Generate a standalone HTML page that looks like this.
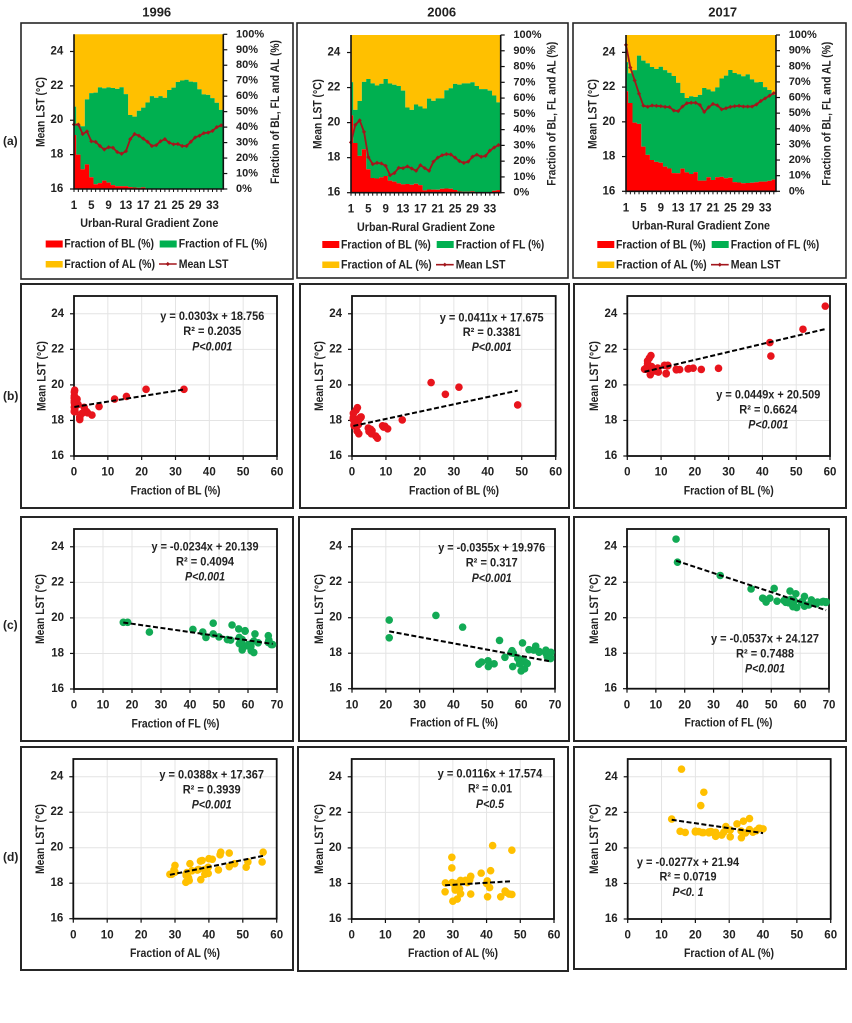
<!DOCTYPE html>
<html lang="en">
<head>
<meta charset="utf-8">
<title>Mean LST against land fractions, 1996, 2006, 2017</title>
<style>
html,body{margin:0;padding:0;background:#fff;}
svg{display:block;filter:blur(0.3px);}
text{font-family:"Liberation Sans",sans-serif;font-weight:700;font-size:12px;fill:#222;dominant-baseline:central;}
.mid{text-anchor:middle;}
.eq{font-size:12px;}
.pv{font-style:italic;}
.panel{fill:#fff;stroke:#262626;}
</style>
</head>
<body>
<svg id="figure" xmlns="http://www.w3.org/2000/svg" width="852" height="1023" viewBox="0 0 852 1023">
<rect x="0" y="0" width="852" height="1023" fill="#fff"/>

<text class="mid" x="156.7" y="12" style="font-size:13px">1996</text>
<text class="mid" x="441.7" y="12" style="font-size:13px">2006</text>
<text class="mid" x="722.7" y="12" style="font-size:13px">2017</text>
<text x="3" y="141" style="font-size:12px">(a)</text>
<text x="3" y="396" style="font-size:12px">(b)</text>
<text x="3" y="625" style="font-size:12px">(c)</text>
<text x="3" y="857" style="font-size:12px">(d)</text>

<rect class="panel" stroke-width="1.6" x="21" y="23" width="272" height="256"/>
<rect class="panel" stroke-width="1.6" x="297" y="23" width="271" height="255"/>
<rect class="panel" stroke-width="1.6" x="573" y="23" width="273" height="255"/>
<rect class="panel" stroke-width="2" x="21" y="284" width="272" height="224"/>
<rect class="panel" stroke-width="2" x="300" y="284" width="269" height="224"/>
<rect class="panel" stroke-width="2" x="574" y="284" width="272" height="224"/>
<rect class="panel" stroke-width="2" x="21" y="517" width="272" height="224"/>
<rect class="panel" stroke-width="2" x="299" y="517" width="270" height="224"/>
<rect class="panel" stroke-width="2" x="574" y="517" width="272" height="224"/>
<rect class="panel" stroke-width="2" x="21" y="747" width="272" height="223"/>
<rect class="panel" stroke-width="2" x="298" y="747" width="270" height="224"/>
<rect class="panel" stroke-width="2" x="574" y="747" width="272" height="222"/>

<g id="marks"></g>

<!-- Row a: titles and legends -->
<g>
<text class="mid" transform="rotate(-90 40.7 112)" x="40.7" y="112" textLength="70" lengthAdjust="spacingAndGlyphs">Mean LST (°C)</text>
<text class="mid" transform="rotate(-90 275 112)" x="275" y="112" textLength="144" lengthAdjust="spacingAndGlyphs">Fraction of BL, FL and AL (%)</text>
<text class="mid" x="149.3" y="223" textLength="138" lengthAdjust="spacingAndGlyphs">Urban-Rural Gradient Zone</text>
<rect x="45.7" y="240.5" width="17" height="7" fill="#ff0000"/>
<text x="64.3" y="243.7" textLength="89.7" lengthAdjust="spacingAndGlyphs">Fraction of BL (%)</text>
<rect x="159.7" y="240.5" width="17" height="7" fill="#00b050"/>
<text x="178.7" y="243.7" textLength="88.6" lengthAdjust="spacingAndGlyphs">Fraction of FL (%)</text>
<rect x="45.7" y="261" width="17" height="6.5" fill="#ffc000"/>
<text x="64.3" y="264" textLength="90.7" lengthAdjust="spacingAndGlyphs">Fraction of AL (%)</text>
<path d="M159 264H176.7" stroke="#a3161c" stroke-width="1.6"/>
<path d="M167.8 261.9L169.9 264L167.8 266.1L165.7 264Z" fill="#a3161c"/>
<text x="178.7" y="264" textLength="49.7" lengthAdjust="spacingAndGlyphs">Mean LST</text>
</g>
<g>
<text class="mid" transform="rotate(-90 317.3 114)" x="317.3" y="114" textLength="70" lengthAdjust="spacingAndGlyphs">Mean LST (°C)</text>
<text class="mid" transform="rotate(-90 551.7 113.7)" x="551.7" y="113.7" textLength="144" lengthAdjust="spacingAndGlyphs">Fraction of BL, FL and AL (%)</text>
<text class="mid" x="426" y="227" textLength="138" lengthAdjust="spacingAndGlyphs">Urban-Rural Gradient Zone</text>
<rect x="322.3" y="241" width="17" height="7" fill="#ff0000"/>
<text x="341" y="244.3" textLength="89.7" lengthAdjust="spacingAndGlyphs">Fraction of BL (%)</text>
<rect x="436.7" y="241" width="17" height="7" fill="#00b050"/>
<text x="455.7" y="244.3" textLength="88.6" lengthAdjust="spacingAndGlyphs">Fraction of FL (%)</text>
<rect x="322.3" y="261.5" width="17" height="6.5" fill="#ffc000"/>
<text x="341" y="264.7" textLength="90.7" lengthAdjust="spacingAndGlyphs">Fraction of AL (%)</text>
<path d="M436 264.7H453.7" stroke="#a3161c" stroke-width="1.6"/>
<path d="M444.8 262.6L446.9 264.7L444.8 266.8L442.7 264.7Z" fill="#a3161c"/>
<text x="455.7" y="264.7" textLength="49.7" lengthAdjust="spacingAndGlyphs">Mean LST</text>
</g>
<g>
<text class="mid" transform="rotate(-90 592.3 114)" x="592.3" y="114" textLength="70" lengthAdjust="spacingAndGlyphs">Mean LST (°C)</text>
<text class="mid" transform="rotate(-90 826.7 113.7)" x="826.7" y="113.7" textLength="144" lengthAdjust="spacingAndGlyphs">Fraction of BL, FL and AL (%)</text>
<text class="mid" x="701" y="225.7" textLength="138" lengthAdjust="spacingAndGlyphs">Urban-Rural Gradient Zone</text>
<rect x="597.3" y="241" width="17" height="7" fill="#ff0000"/>
<text x="616" y="244.3" textLength="89.7" lengthAdjust="spacingAndGlyphs">Fraction of BL (%)</text>
<rect x="711.7" y="241" width="17" height="7" fill="#00b050"/>
<text x="730.7" y="244.3" textLength="88.6" lengthAdjust="spacingAndGlyphs">Fraction of FL (%)</text>
<rect x="597.3" y="261.5" width="17" height="6.5" fill="#ffc000"/>
<text x="616" y="264.7" textLength="90.7" lengthAdjust="spacingAndGlyphs">Fraction of AL (%)</text>
<path d="M711 264.7H728.7" stroke="#a3161c" stroke-width="1.6"/>
<path d="M719.8 262.6L721.9 264.7L719.8 266.8L717.7 264.7Z" fill="#a3161c"/>
<text x="730.7" y="264.7" textLength="49.7" lengthAdjust="spacingAndGlyphs">Mean LST</text>
</g>

<!-- Row b -->
<g>
<text class="mid" transform="rotate(-90 41.7 376)" x="41.7" y="376" textLength="70" lengthAdjust="spacingAndGlyphs">Mean LST (°C)</text>
<text class="mid" x="175.5" y="490.7" textLength="90" lengthAdjust="spacingAndGlyphs">Fraction of BL (%)</text>
<text class="mid eq" x="212.3" y="316" textLength="104" lengthAdjust="spacingAndGlyphs">y = 0.0303x + 18.756</text>
<text class="mid eq" x="212.3" y="331" textLength="58" lengthAdjust="spacingAndGlyphs">R² = 0.2035</text>
<text class="mid eq pv" x="212.3" y="346.3" textLength="40" lengthAdjust="spacingAndGlyphs">P&lt;0.001</text>
</g>
<g>
<text class="mid" transform="rotate(-90 319 376)" x="319" y="376" textLength="70" lengthAdjust="spacingAndGlyphs">Mean LST (°C)</text>
<text class="mid" x="454" y="490.7" textLength="90" lengthAdjust="spacingAndGlyphs">Fraction of BL (%)</text>
<text class="mid eq" x="491.7" y="317.3" textLength="104" lengthAdjust="spacingAndGlyphs">y = 0.0411x + 17.675</text>
<text class="mid eq" x="491.7" y="332" textLength="58" lengthAdjust="spacingAndGlyphs">R² = 0.3381</text>
<text class="mid eq pv" x="491.7" y="347" textLength="40" lengthAdjust="spacingAndGlyphs">P&lt;0.001</text>
</g>
<g>
<text class="mid" transform="rotate(-90 594 376)" x="594" y="376" textLength="70" lengthAdjust="spacingAndGlyphs">Mean LST (°C)</text>
<text class="mid" x="728.7" y="490.7" textLength="90" lengthAdjust="spacingAndGlyphs">Fraction of BL (%)</text>
<text class="mid eq" x="768.3" y="394.3" textLength="104" lengthAdjust="spacingAndGlyphs">y = 0.0449x + 20.509</text>
<text class="mid eq" x="768.3" y="409.7" textLength="58" lengthAdjust="spacingAndGlyphs">R² = 0.6624</text>
<text class="mid eq pv" x="768.3" y="424.7" textLength="40" lengthAdjust="spacingAndGlyphs">P&lt;0.001</text>
</g>

<!-- Row c -->
<g>
<text class="mid" transform="rotate(-90 40 609)" x="40" y="609" textLength="70" lengthAdjust="spacingAndGlyphs">Mean LST (°C)</text>
<text class="mid" x="175.5" y="723.5" textLength="88" lengthAdjust="spacingAndGlyphs">Fraction of FL (%)</text>
<text class="mid eq" x="205" y="546.7" textLength="107" lengthAdjust="spacingAndGlyphs">y = -0.0234x + 20.139</text>
<text class="mid eq" x="205" y="561.7" textLength="58" lengthAdjust="spacingAndGlyphs">R² = 0.4094</text>
<text class="mid eq pv" x="205" y="576.7" textLength="40" lengthAdjust="spacingAndGlyphs">P&lt;0.001</text>
</g>
<g>
<text class="mid" transform="rotate(-90 319 609)" x="319" y="609" textLength="70" lengthAdjust="spacingAndGlyphs">Mean LST (°C)</text>
<text class="mid" x="454" y="722.7" textLength="88" lengthAdjust="spacingAndGlyphs">Fraction of FL (%)</text>
<text class="mid eq" x="491.7" y="547.7" textLength="107" lengthAdjust="spacingAndGlyphs">y = -0.0355x + 19.976</text>
<text class="mid eq" x="491.7" y="562.7" textLength="52" lengthAdjust="spacingAndGlyphs">R² = 0.317</text>
<text class="mid eq pv" x="491.7" y="578" textLength="40" lengthAdjust="spacingAndGlyphs">P&lt;0.001</text>
</g>
<g>
<text class="mid" transform="rotate(-90 594 609)" x="594" y="609" textLength="70" lengthAdjust="spacingAndGlyphs">Mean LST (°C)</text>
<text class="mid" x="728.5" y="722.7" textLength="88" lengthAdjust="spacingAndGlyphs">Fraction of FL (%)</text>
<text class="mid eq" x="765" y="638.7" textLength="108" lengthAdjust="spacingAndGlyphs">y = -0.0537x + 24.127</text>
<text class="mid eq" x="765" y="653.7" textLength="58" lengthAdjust="spacingAndGlyphs">R² = 0.7488</text>
<text class="mid eq pv" x="765" y="668.7" textLength="40" lengthAdjust="spacingAndGlyphs">P&lt;0.001</text>
</g>

<!-- Row d -->
<g>
<text class="mid" transform="rotate(-90 40 839)" x="40" y="839" textLength="70" lengthAdjust="spacingAndGlyphs">Mean LST (°C)</text>
<text class="mid" x="175" y="953" textLength="90" lengthAdjust="spacingAndGlyphs">Fraction of AL (%)</text>
<text class="mid eq" x="211.7" y="774.3" textLength="104.7" lengthAdjust="spacingAndGlyphs">y = 0.0388x + 17.367</text>
<text class="mid eq" x="211.7" y="789.3" textLength="58" lengthAdjust="spacingAndGlyphs">R² = 0.3939</text>
<text class="mid eq pv" x="211.7" y="804.7" textLength="40" lengthAdjust="spacingAndGlyphs">P&lt;0.001</text>
</g>
<g>
<text class="mid" transform="rotate(-90 319 839)" x="319" y="839" textLength="70" lengthAdjust="spacingAndGlyphs">Mean LST (°C)</text>
<text class="mid" x="453" y="953" textLength="90" lengthAdjust="spacingAndGlyphs">Fraction of AL (%)</text>
<text class="mid eq" x="490" y="773.7" textLength="104.7" lengthAdjust="spacingAndGlyphs">y = 0.0116x + 17.574</text>
<text class="mid eq" x="490" y="788.7" textLength="44" lengthAdjust="spacingAndGlyphs">R² = 0.01</text>
<text class="mid eq pv" x="490" y="804" textLength="28" lengthAdjust="spacingAndGlyphs">P&lt;0.5</text>
</g>
<g>
<text class="mid" transform="rotate(-90 594 839)" x="594" y="839" textLength="70" lengthAdjust="spacingAndGlyphs">Mean LST (°C)</text>
<text class="mid" x="729" y="953" textLength="90" lengthAdjust="spacingAndGlyphs">Fraction of AL (%)</text>
<text class="mid eq" x="688" y="862" textLength="102.3" lengthAdjust="spacingAndGlyphs">y = -0.0277x + 21.94</text>
<text class="mid eq" x="688" y="876.7" textLength="57" lengthAdjust="spacingAndGlyphs">R² = 0.0719</text>
<text class="mid eq pv" x="688" y="892" textLength="31" lengthAdjust="spacingAndGlyphs">P&lt;0. 1</text>
</g>
</svg>

<script>
// ---- Chart data ----
const zones = [1,2,3,4,5,6,7,8,9,10,11,12,13,14,15,16,17,18,19,20,21,22,23,24,25,26,27,28,29,30,31,32,33,34,35];
const zoneTickLabels = [1,5,9,13,17,21,25,29,33];
const lstTickLabels = [16,18,20,22,24];
const percentTickLabels = [0,10,20,30,40,50,60,70,80,90,100];
const blTickLabels = [0,10,20,30,40,50,60];
const flTickLabels = [0,10,20,30,40,50,60,70];
const flTickLabels2006 = [10,20,30,40,50,60,70];
const alTickLabels = [0,10,20,30,40,50,60];

const lst1996 = [19.75,19.75,19.2,19.35,18.78,18.74,18.5,18.3,18.43,18.4,18.15,18.05,18.2,18.9,19.2,19.1,18.93,18.75,18.5,18.55,18.78,18.9,18.7,18.6,18.62,18.5,18.5,18.75,19,19.1,19.25,19.28,19.38,19.6,19.7];
const bl1996 = [32.5,21.3,12,15.5,7.4,3,3.7,5.3,4,2.4,1.7,1.7,1.7,1.2,0.9,0.7,1,0.3,0.3,0.2,0.3,0.2,0.2,0.2,0.2,0.1,0.1,0.1,0.1,0.1,0.1,0.1,0.1,0.1,0.2];
const fl1996 = [17,18.5,26,41,52.9,57.5,60.1,58.1,59.8,61,61.1,62,58,45.5,44.4,48,50,54,58,57,58,57,62,63.5,67,68,68.5,67.2,67,62.4,59,59,56.8,54.5,48];
const al1996 = [43.5,56,55.7,41,37,36.6,33.3,34,33.3,33.7,34.2,33.2,37.6,51,51.5,47.6,46,42.8,38.8,39.8,38.8,39.8,35,33.5,30,29,28.5,29.7,30,34.4,37.5,38,40,43.3,46];

const lst2006 = [18.87,19.87,20.13,19.47,18.03,17.63,17.7,17.67,17.53,17,17.12,17.42,17.4,17.5,17.38,17.25,17.57,17.4,17.25,17.77,18,18.14,18.2,18.18,18,17.8,17.7,17.77,18.05,18.17,18.05,18.1,18.4,18.58,18.72];
const bl2006 = [48.8,31.5,23.3,27.5,14.8,9.3,9,9.7,10.5,7.5,7,5.9,5.3,5.5,5,5.7,4.8,1.5,2,1.9,1.9,2.5,2.7,2.5,1.7,0.8,0.6,0.6,0.8,0.4,0.4,0.4,0.4,1.2,1.6];
const fl2006 = [21,21,34.8,42.7,57,60,59,59.5,61,60,61,61.8,59.5,48.3,47.5,50.3,50.2,52,57.5,55.2,57.7,57.3,62.3,63.7,67.3,67.7,68.7,68.7,68.8,67.3,65.3,65.3,64.3,60.4,53.6];
const al2006 = [29.7,47.5,41.8,29.7,27.8,30.7,32,31,27.7,30,31.3,32.3,35.3,45.8,47.5,44.2,45.5,46.7,40.3,40.9,40,40.2,35,33.8,31,31.5,30.7,30.7,29.8,32.3,34.3,34.3,35.3,38.4,41.2];

const lst2017 = [24.43,23.13,22.38,21.62,20.93,20.87,20.94,20.92,20.9,20.86,20.85,20.65,20.62,20.88,21.07,21.1,21.1,20.97,20.57,20.84,21.03,20.95,20.72,20.78,20.86,20.9,20.92,20.88,20.88,20.88,21,21.2,21.35,21.5,21.65];
const bl2017 = [58.6,52,42.2,42.5,27,21.9,19.5,18.2,18,15.5,14.5,11.5,11.5,14.5,12,11,12,6.8,6.8,9,7.2,9,9.2,8.3,8.7,5.8,5.5,5.1,5.3,5.5,5.8,6,6,6.5,7];
const fl2017 = [17,17.5,32.3,43,52,55,58,57.5,60.5,60.5,61,61.5,57.5,48.2,47.3,49.5,47,54.4,58.8,56,56.7,57.5,63,65.6,68.9,69,68,67.5,69,66,63.9,61.5,58.5,56.5,51];
const al2017 = [15.9,22.5,21.6,13,15.5,17,20,21,20,22,24,26,30.3,37,40,39,38.8,38,33.6,34.8,36,33.5,27.8,26,22.4,24,24.6,26,25,28.4,30.3,29,32.3,34.2,36];

// Fitted trendlines as printed on the chart: slope, intercept
const trendBl1996 = [0.0303,18.756];
const trendBl2006 = [0.0411,17.675];
const trendBl2017 = [0.0449,20.509];
const trendFl1996 = [-0.0234,20.139];
const trendFl2006 = [-0.0355,19.976];
const trendFl2017 = [-0.0537,24.127];
const trendAl1996 = [0.0388,17.367];
const trendAl2006 = [0.0116,17.574];
const trendAl2017 = [-0.0277,21.94];

// ---- Layout and drawing ----
const SVGNS = 'http://www.w3.org/2000/svg';
const root = document.getElementById('marks');
const COLORS = {bl:'#ff0000', fl:'#00b050', al:'#ffc000', dotBl:'#e8141c', dotFl:'#12aa55', dotAl:'#ffc000', line:'#a3161c', axis:'#111', grid:'#e4e4e4'};
const LST_MIN = 16, LST_MAX = 25;

function mk(tag, parent, attrs) {
  const el = document.createElementNS(SVGNS, tag);
  for (const k in attrs) el.setAttribute(k, attrs[k]);
  parent.appendChild(el);
  return el;
}
function linear(d0, d1, r0, r1) {
  return function (v) { return r0 + (v - d0) / (d1 - d0) * (r1 - r0); };
}
function tickLabel(parent, x, y, str, anchor, size) {
  const t = mk('text', parent, {x: x, y: y, 'text-anchor': anchor, style: 'font-size:' + size + 'px'});
  t.textContent = str;
  return t;
}
function stepPath(xs, half, left, right, lower, upper) {
  // Stepped band between two value sequences, as an Excel date-axis area
  let d = '';
  for (let i = 0; i < xs.length; i++) {
    const a = Math.max(left, xs[i] - half), b = Math.min(right, xs[i] + half);
    d += (i === 0 ? 'M' : 'L') + a.toFixed(2) + ' ' + upper[i].toFixed(2) + 'L' + b.toFixed(2) + ' ' + upper[i].toFixed(2);
  }
  for (let i = xs.length - 1; i >= 0; i--) {
    const a = Math.max(left, xs[i] - half), b = Math.min(right, xs[i] + half);
    d += 'L' + b.toFixed(2) + ' ' + lower[i].toFixed(2) + 'L' + a.toFixed(2) + ' ' + lower[i].toFixed(2);
  }
  return d + 'Z';
}

function drawAreaChart(name, box, lst, bl, fl, al) {
  const g = mk('g', root, {});
  
  
  const step = (box.right - box.left) / 34.5;
  const xOf = function (z) { return box.left + (z - 1) * step; };
  const yPct = linear(0, 100, box.bottom, box.top);
  const yLst = linear(LST_MIN, LST_MAX, box.bottom, box.top);
  const xs = zones.map(xOf);
  const sums = zones.map(function (z, i) { return bl[i] + fl[i] + al[i]; });
  const y0 = zones.map(function () { return yPct(0); });
  const y1 = zones.map(function (z, i) { return yPct(bl[i] / sums[i] * 100); });
  const y2 = zones.map(function (z, i) { return yPct((bl[i] + fl[i]) / sums[i] * 100); });
  const y3 = zones.map(function (z, i) { return yPct((bl[i] + fl[i] + al[i]) / sums[i] * 100); });

  const areaAl = mk('path', g, {d: stepPath(xs, step / 2, box.left, box.right, y2, y3), fill: COLORS.al});
  
  
  const areaFl = mk('path', g, {d: stepPath(xs, step / 2, box.left, box.right, y1, y2), fill: COLORS.fl});
  
  
  const areaBl = mk('path', g, {d: stepPath(xs, step / 2, box.left, box.right, y0, y1), fill: COLORS.bl});
  
  

  const linePts = zones.map(function (z, i) { return xOf(z).toFixed(2) + ',' + yLst(lst[i]).toFixed(2); }).join(' ');
  const line = mk('polyline', g, {points: linePts, fill: 'none', stroke: COLORS.line, 'stroke-width': 1.8});
  
  
  zones.forEach(function (z, i) {
    const cx = xOf(z), cy = yLst(lst[i]);
    const m = mk('path', g, {d: 'M' + cx + ' ' + (cy - 2.1) + 'L' + (cx + 2.1) + ' ' + cy + 'L' + cx + ' ' + (cy + 2.1) + 'L' + (cx - 2.1) + ' ' + cy + 'Z', fill: COLORS.line});
    
    
  });

  const axes = mk('path', g, {d: 'M' + box.left + ' ' + box.top + 'V' + box.bottom + 'H' + box.right + 'V' + box.top, fill: 'none', stroke: COLORS.axis, 'stroke-width': 1.6});
  
  

  lstTickLabels.forEach(function (v) {
    const y = yLst(v);
    const tick = mk('line', g, {x1: box.left - 4, x2: box.left, y1: y, y2: y, stroke: COLORS.axis, 'stroke-width': 1.2});
    
    
    const label = tickLabel(g, box.left - 10.7, y, String(v), 'end', 11.5);
    
    
  });
  percentTickLabels.forEach(function (v) {
    const y = yPct(v);
    const tick = mk('line', g, {x1: box.right, x2: box.right + 4, y1: y, y2: y, stroke: COLORS.axis, 'stroke-width': 1.2});
    
    
    const label = tickLabel(g, box.right + 12.7, y, v + '%', 'start', 11);
    
    
  });
  zones.forEach(function (z) {
    const tick = mk('line', g, {x1: xOf(z), x2: xOf(z), y1: box.bottom, y2: box.bottom + 3, stroke: COLORS.axis, 'stroke-width': 1});
    
    
  });
  zoneTickLabels.forEach(function (z) {
    const label = tickLabel(g, xOf(z), box.bottom + 17, String(z), 'middle', 11.5);
    
    
  });
}

function drawScatter(name, box, xTicks, xVals, yVals, trend, color) {
  const g = mk('g', root, {});
  
  
  const xOf = linear(xTicks[0], xTicks[xTicks.length - 1], box.left, box.right);
  const yOf = linear(LST_MIN, LST_MAX, box.bottom, box.top);

  xTicks.forEach(function (v) {
    const grid = mk('line', g, {x1: xOf(v), x2: xOf(v), y1: box.top, y2: box.bottom, stroke: COLORS.grid, 'stroke-width': 1});
    
    
  });
  lstTickLabels.forEach(function (v) {
    const grid = mk('line', g, {x1: box.left, x2: box.right, y1: yOf(v), y2: yOf(v), stroke: COLORS.grid, 'stroke-width': 1});
    
    
  });
  const frame = mk('rect', g, {x: box.left, y: box.top, width: box.right - box.left, height: box.bottom - box.top, fill: 'none', stroke: '#111', 'stroke-width': 1.8});
  
  

  lstTickLabels.forEach(function (v) {
    const tick = mk('line', g, {x1: box.left - 4, x2: box.left, y1: yOf(v), y2: yOf(v), stroke: COLORS.axis, 'stroke-width': 1.2});
    
    
    const label = tickLabel(g, box.left - 10, yOf(v), String(v), 'end', 11.5);
    
    
  });
  xTicks.forEach(function (v) {
    const tick = mk('line', g, {x1: xOf(v), x2: xOf(v), y1: box.bottom, y2: box.bottom + 4, stroke: COLORS.axis, 'stroke-width': 1.2});
    
    
    const label = tickLabel(g, xOf(v), box.bottom + 16.7, String(v), 'middle', 11.5);
    
    
  });

  xVals.forEach(function (v, i) {
    const dot = mk('circle', g, {cx: xOf(v), cy: yOf(yVals[i]), r: 3.8, fill: color});
    
    
  });

  const lo = Math.min.apply(null, xVals), hi = Math.max.apply(null, xVals);
  const fit = mk('line', g, {x1: xOf(lo), y1: yOf(trend[0] * lo + trend[1]), x2: xOf(hi), y2: yOf(trend[0] * hi + trend[1]), stroke: '#000', 'stroke-width': 2, 'stroke-dasharray': '5 2.5'});
  
  
}

drawAreaChart('chart-a-1996', {left: 74, right: 223.3, top: 34.3, bottom: 189}, lst1996, bl1996, fl1996, al1996);
drawAreaChart('chart-a-2006', {left: 351, right: 500.7, top: 35, bottom: 192.7}, lst2006, bl2006, fl2006, al2006);
drawAreaChart('chart-a-2017', {left: 626, right: 776, top: 35, bottom: 191.3}, lst2017, bl2017, fl2017, al2017);

drawScatter('chart-b-1996', {left: 74, right: 277, top: 296, bottom: 456}, blTickLabels, bl1996, lst1996, trendBl1996, COLORS.dotBl);
drawScatter('chart-b-2006', {left: 352, right: 555.7, top: 296, bottom: 456}, blTickLabels, bl2006, lst2006, trendBl2006, COLORS.dotBl);
drawScatter('chart-b-2017', {left: 627.3, right: 830, top: 296, bottom: 456}, blTickLabels, bl2017, lst2017, trendBl2017, COLORS.dotBl);

drawScatter('chart-c-1996', {left: 74, right: 277, top: 529, bottom: 689}, flTickLabels, fl1996, lst1996, trendFl1996, COLORS.dotFl);
drawScatter('chart-c-2006', {left: 352, right: 555, top: 529, bottom: 688.7}, flTickLabels2006, fl2006, lst2006, trendFl2006, COLORS.dotFl);
drawScatter('chart-c-2017', {left: 627, right: 829, top: 529, bottom: 688.7}, flTickLabels, fl2017, lst2017, trendFl2017, COLORS.dotFl);

drawScatter('chart-d-1996', {left: 73.3, right: 276.7, top: 759, bottom: 918.7}, alTickLabels, al1996, lst1996, trendAl1996, COLORS.dotAl);
drawScatter('chart-d-2006', {left: 351.7, right: 554, top: 759, bottom: 919}, alTickLabels, al2006, lst2006, trendAl2006, COLORS.dotAl);
drawScatter('chart-d-2017', {left: 627.7, right: 830.7, top: 759, bottom: 919}, alTickLabels, al2017, lst2017, trendAl2017, COLORS.dotAl);
</script>
</body>
</html>
